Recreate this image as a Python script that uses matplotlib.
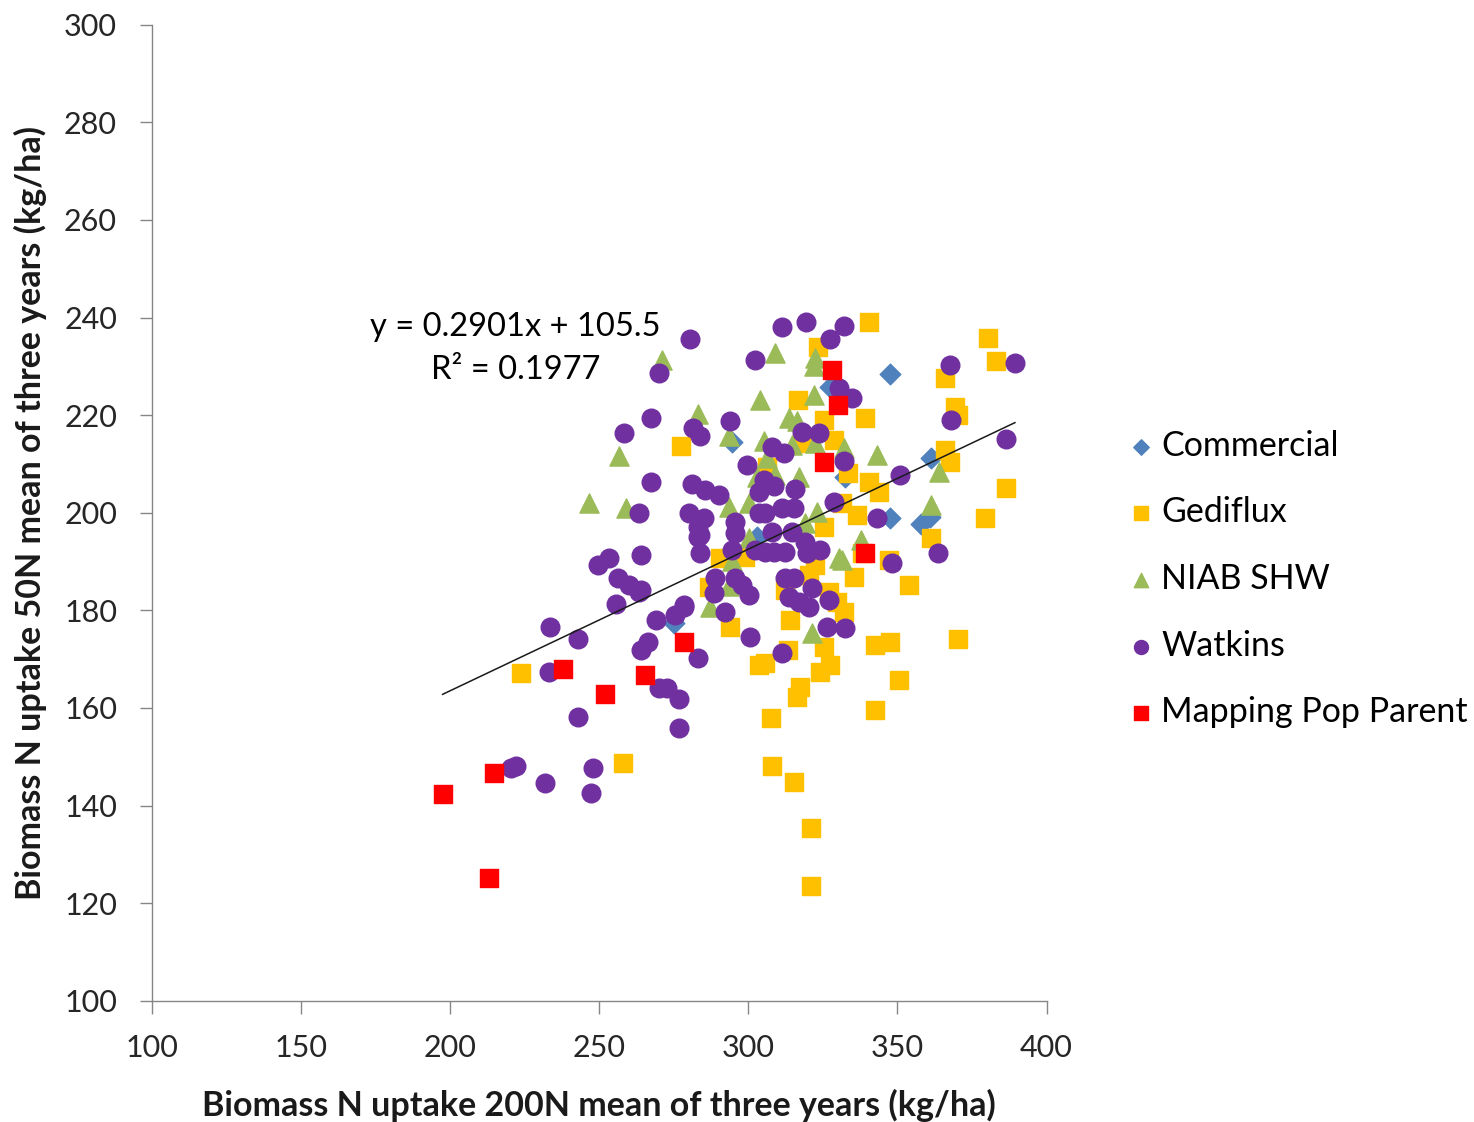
import matplotlib.pyplot as plt

plt.rcParams['font.family'] = ['Lato', 'DejaVu Sans']

# values
commercial_x = [347.6, 347.6, 358.0, 360.8, 361.1, 294.6, 275.2, 327.4, 302.9, 332.5]
commercial_y = [228.5, 199.0, 197.7, 199.2, 211.3, 214.5, 177.5, 225.8, 195.1, 207.4]

gediflux_x = [340.6, 380.3, 323.4, 383.0, 365.8, 316.6, 369.2, 370.2, 325.4, 339.2,
              277.3, 328.8, 318.0, 365.8, 367.5, 306.2, 333.5, 340.6, 343.9, 386.3,
              331.5, 336.6, 379.3, 325.4, 361.1, 338.2, 347.3, 290.4, 298.8, 322.4,
              320.4, 335.5, 312.3, 327.1, 354.0, 329.8, 332.2, 314.0, 293.8, 342.6,
              347.6, 370.2, 325.4, 313.3, 303.5, 305.6, 324.1, 327.4, 317.3, 316.3,
              350.6, 342.6, 307.5, 307.9, 315.3, 321.0, 321.0, 223.7, 258.1, 286.7]
gediflux_y = [239.1, 235.9, 234.0, 231.0, 227.7, 223.2, 221.7, 220.1, 219.1, 219.5,
              213.7, 215.0, 214.3, 212.9, 210.5, 209.4, 208.2, 206.4, 204.3, 205.1,
              202.0, 199.6, 199.0, 197.1, 194.9, 191.8, 190.4, 190.8, 191.0, 189.3,
              187.3, 186.9, 184.2, 183.8, 185.2, 181.8, 179.7, 178.1, 176.6, 173.0,
              173.6, 174.2, 172.5, 171.9, 168.9, 169.3, 167.4, 168.9, 164.3, 162.3,
              165.8, 159.6, 158.0, 148.2, 144.9, 135.5, 123.6, 167.2, 148.8, 184.8]

niab_x = [270.9, 308.9, 322.3, 321.9, 303.9, 321.9, 283.0, 293.4, 313.6, 316.3,
          305.2, 314.6, 322.3, 332.1, 306.2, 302.9, 308.9, 317.0, 343.3, 364.1,
          361.1, 337.9, 331.5, 246.6, 259.1, 256.7, 293.4, 300.2, 323.1, 319.0,
          300.2, 294.4, 330.5, 287.0, 321.4, 293.4]
niab_y = [231.4, 232.8, 231.8, 230.1, 223.2, 224.2, 220.3, 215.8, 219.5, 218.9,
          214.8, 213.9, 214.3, 213.3, 211.3, 207.4, 207.8, 207.4, 211.9, 208.4,
          201.6, 194.5, 190.4, 202.0, 201.0, 211.7, 201.2, 202.0, 200.2, 198.0,
          194.9, 190.2, 190.8, 180.7, 175.4, 185.0]

watkins_x = [311.3, 319.4, 332.2, 327.4, 280.3, 270.2, 302.2, 330.5, 334.8, 267.5,
             258.4, 281.6, 283.7, 293.8, 307.9, 312.0, 318.0, 323.7, 299.5, 332.2,
             267.5, 281.0, 285.4, 290.1, 305.2, 308.6, 315.7, 303.5, 328.8, 367.5,
             389.4, 367.8, 386.4, 351.0, 343.3, 363.5, 348.3, 332.5, 249.7, 253.4,
             256.4, 260.1, 263.5, 255.7, 264.1, 263.5, 233.5, 242.9, 233.2, 264.1,
             280.0, 283.3, 283.3, 269.2, 275.3, 278.6, 266.5, 269.9, 272.6, 276.9,
             283.3, 276.9, 242.9, 220.4, 222.1, 231.8, 248.0, 247.3, 311.3, 285.0,
             283.7, 283.7, 295.5, 295.5, 294.4, 303.5, 305.6, 311.3, 315.3, 307.9,
             314.6, 302.2, 305.6, 308.6, 312.3, 319.0, 319.7, 324.1, 288.7, 295.5,
             297.8, 300.2, 288.4, 292.1, 278.3, 312.3, 315.3, 313.6, 317.0, 320.4,
             321.4, 327.1, 326.4, 300.5, 264.1]
watkins_y = [238.1, 239.1, 238.3, 235.5, 235.5, 228.7, 231.4, 225.6, 223.6, 219.5,
             216.4, 217.4, 215.8, 218.9, 213.5, 212.3, 216.6, 216.4, 209.8, 210.7,
             206.4, 205.9, 204.7, 203.7, 206.8, 205.5, 204.9, 204.3, 202.3, 230.3,
             230.7, 219.1, 215.2, 207.8, 199.0, 191.8, 189.8, 176.4, 189.3, 190.8,
             186.7, 185.2, 183.8, 181.4, 191.4, 200.0, 176.6, 174.2, 167.4, 171.9,
             200.0, 197.1, 195.1, 178.1, 179.1, 180.7, 173.6, 164.1, 164.1, 161.9,
             170.3, 155.9, 158.2, 147.7, 148.2, 144.7, 147.7, 142.6, 171.3, 199.0,
             195.5, 191.8, 198.2, 195.9, 192.4, 200.0, 200.0, 201.0, 201.0, 196.1,
             196.1, 192.4, 192.0, 192.0, 192.0, 194.1, 191.8, 192.4, 186.7, 186.7,
             185.2, 183.2, 183.6, 179.7, 181.1, 186.7, 186.7, 182.8, 181.8, 180.7,
             184.6, 182.2, 176.6, 174.6, 184.2]

mapping_x = [197.5, 213.0, 214.6, 237.9, 252.0, 265.5, 278.6, 328.0, 330.0, 325.4, 339.2]
mapping_y = [142.4, 125.2, 146.7, 168.0, 162.9, 166.8, 173.6, 229.3, 222.1, 210.5, 191.8]

slope = 0.2901
intercept = 105.5
r2 = 0.1977

fig = plt.figure(figsize=(14.74, 11.22), dpi=100)
ax = fig.add_axes([0.103, 0.108, 0.607, 0.870])

ax.scatter(commercial_x, commercial_y, marker='D', s=110, color='#4F81BD', label='Commercial', zorder=2)
ax.scatter(gediflux_x, gediflux_y, marker='s', s=175, color='#FFC000', label='Gediflux', zorder=3)
ax.scatter(niab_x, niab_y, marker='^', s=190, color='#9BBB59', label='NIAB SHW', zorder=4)
ax.scatter(watkins_x, watkins_y, marker='o', s=180, color='#7030A0', label='Watkins', zorder=5)
ax.scatter(mapping_x, mapping_y, marker='s', s=175, color='#FF0000', label='Mapping Pop Parent', zorder=6)

# linear trendline over the range of all points
all_x = commercial_x + gediflux_x + niab_x + watkins_x + mapping_x
x0, x1 = min(all_x), max(all_x)
ax.plot([x0, x1], [slope * x0 + intercept, slope * x1 + intercept],
        color='#1a1a1a', lw=1.1, zorder=7)

ax.text(222, 238.1, f"y = {slope}x + {intercept}", ha='center', va='center', fontsize=23.5)
ax.text(222, 229.2, f"R² = {r2}", ha='center', va='center', fontsize=23.5)

ax.set_xlim(100, 400)
ax.set_ylim(100, 300)
ax.set_xticks(range(100, 401, 50))
ax.set_yticks(range(100, 301, 20))
for side in ['top', 'right']:
    ax.spines[side].set_visible(False)
for side in ['left', 'bottom']:
    ax.spines[side].set_color('#868686')
    ax.spines[side].set_linewidth(1.0)
ax.tick_params(colors='#868686', labelcolor='#262626', labelsize=22, length=9, width=1.0, direction='out')
ax.tick_params(axis='x', pad=15)
ax.tick_params(axis='y', pad=16)

ax.set_xlabel('Biomass N uptake 200N mean of three years (kg/ha)', fontsize=24.5,
              fontweight='bold', labelpad=19, color='#1a1a1a')
ax.set_ylabel('Biomass N uptake 50N mean of three years (kg/ha)', fontsize=24.5,
              fontweight='bold', labelpad=12, color='#1a1a1a')

fig.legend(loc='center left', bbox_to_anchor=(0.752, 0.484), frameon=False,
           fontsize=24.5, markerscale=0.75, handletextpad=0.15, handlelength=0.9,
           labelspacing=1.02, borderpad=0)

fig.savefig('out.png', dpi=100)
